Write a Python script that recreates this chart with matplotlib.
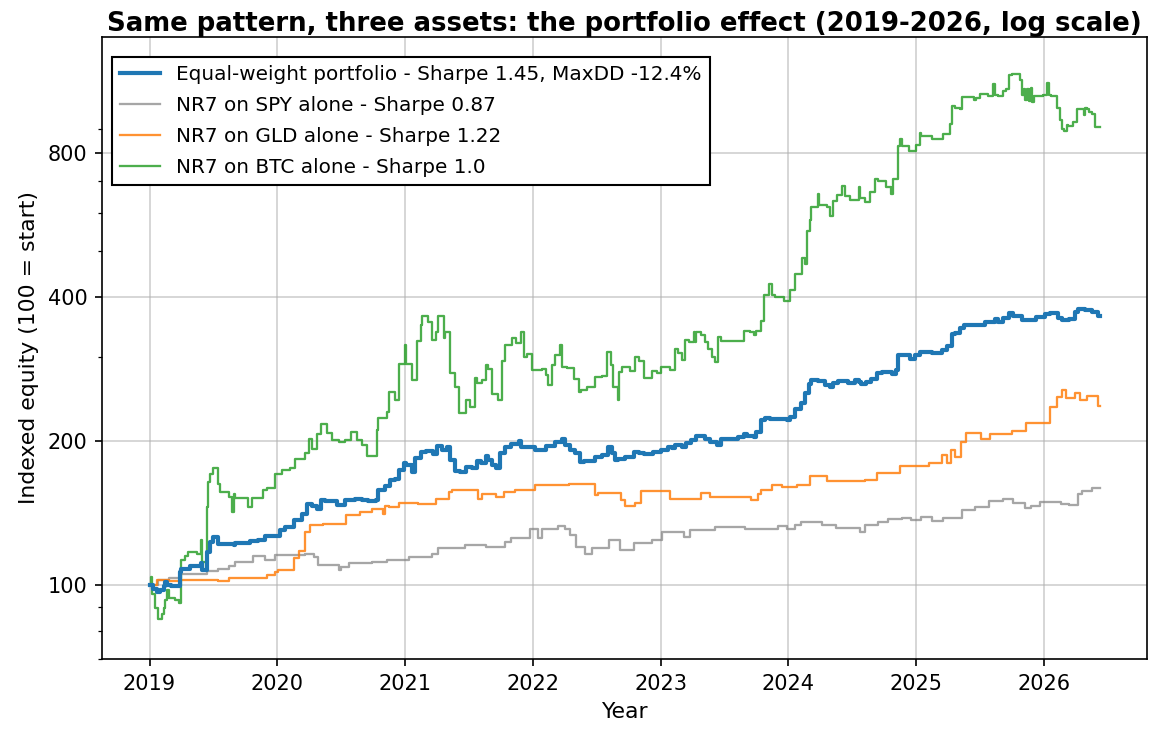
import matplotlib
matplotlib.use("Agg")
import matplotlib.pyplot as plt
import matplotlib.dates as mdates
from matplotlib.ticker import NullFormatter
import pandas as pd

# equity curves, indexed to 100 at start (time in decimal years)
portfolio_t = [2019.00, 2019.03, 2019.06, 2019.08, 2019.11, 2019.12, 2019.14, 2019.17, 2019.24, 2019.25,
               2019.32, 2019.40, 2019.41, 2019.45, 2019.475, 2019.50, 2019.54, 2019.66, 2019.67, 2019.75,
               2019.79, 2019.85, 2019.905, 2019.98, 2020.02, 2020.06, 2020.13, 2020.19, 2020.23, 2020.27,
               2020.31, 2020.34, 2020.37, 2020.47, 2020.53, 2020.61, 2020.66, 2020.71, 2020.77, 2020.79,
               2020.84, 2020.88, 2020.92, 2020.95, 2020.99, 2021.01, 2021.05, 2021.08, 2021.12, 2021.16,
               2021.22, 2021.25, 2021.29, 2021.33, 2021.35, 2021.39, 2021.43, 2021.48, 2021.52, 2021.56,
               2021.59, 2021.63, 2021.65, 2021.68, 2021.71, 2021.74, 2021.78, 2021.83, 2021.89, 2021.91,
               2022.02, 2022.10, 2022.17, 2022.23, 2022.25, 2022.29, 2022.33, 2022.37, 2022.40, 2022.49,
               2022.54, 2022.59, 2022.62, 2022.645, 2022.67, 2022.72, 2022.79, 2022.83, 2022.87, 2022.94,
               2023.00, 2023.06, 2023.09, 2023.11, 2023.17, 2023.20, 2023.24, 2023.28, 2023.35, 2023.39,
               2023.44, 2023.47, 2023.61, 2023.65, 2023.68, 2023.73, 2023.75, 2023.79, 2023.82, 2023.86,
               2023.99, 2024.01, 2024.05, 2024.10, 2024.13, 2024.16, 2024.18, 2024.23, 2024.29, 2024.33,
               2024.35, 2024.39, 2024.47, 2024.52, 2024.55, 2024.57, 2024.61, 2024.65, 2024.69, 2024.73,
               2024.81, 2024.84, 2024.86, 2024.95, 2024.99, 2025.03, 2025.12, 2025.20, 2025.24, 2025.28,
               2025.30, 2025.34, 2025.37, 2025.47, 2025.54, 2025.62, 2025.64, 2025.68, 2025.73, 2025.76,
               2025.83, 2025.88, 2025.94, 2026.01, 2026.05, 2026.11, 2026.14, 2026.20, 2026.24, 2026.27,
               2026.32, 2026.38, 2026.42, 2026.435]
portfolio_v = [100, 98.3, 96.7, 97.5, 99.5, 101.5, 100.0, 99.4, 106.5, 108.2,
               109.4, 111.2, 107.7, 117.2, 123.0, 126.0, 122.0, 121.0, 122.6, 122.2,
               123.4, 124.4, 126.4, 126.8, 130.1, 132.2, 136.5, 140.9, 148.0, 146.0,
               144.4, 150.4, 149.5, 146.9, 150.4, 151.6, 150.5, 149.5, 150.4, 157.8,
               160.8, 165.4, 166.8, 173.8, 179.7, 178.0, 172.6, 183.9, 189.9, 190.5,
               188.0, 195.2, 192.0, 194.5, 182.4, 173.3, 172.6, 176.6, 175.5, 182.0,
               179.5, 185.9, 182.5, 178.0, 175.4, 188.4, 194.6, 197.3, 200.1, 194.6,
               191.4, 195.5, 199.2, 202.3, 196.5, 191.4, 188.4, 180.8, 182.0, 185.5,
               186.8, 194.6, 188.4, 182.4, 183.6, 185.0, 189.9, 189.0, 187.6, 189.9,
               191.4, 194.6, 193.2, 196.1, 194.6, 198.4, 200.8, 204.7, 202.3, 199.2,
               196.1, 202.3, 203.5, 207.3, 204.7, 203.5, 209.0, 220.9, 223.6, 222.5,
               221.0, 224.1, 233.8, 240.2, 251.7, 263.8, 268.3, 266.5, 261.5, 259.5,
               264.0, 266.5, 264.5, 268.0, 265.5, 262.9, 266.0, 269.5, 276.9, 278.5,
               276.0, 281.0, 302.3, 297.4, 302.3, 307.1, 306.0, 310.0, 316.5, 334.2,
               336.0, 343.9, 349.4, 349.4, 355.0, 360.6, 355.5, 361.5, 371.4, 366.0,
               357.8, 358.5, 363.6, 369.5, 370.0, 362.0, 357.8, 359.5, 372.6, 377.0,
               376.0, 372.0, 364.8, 364.8]

spy_t = [2019.00, 2019.07, 2019.15, 2019.25, 2019.45, 2019.54, 2019.62, 2019.67, 2019.81, 2019.905,
         2019.98, 2020.22, 2020.29, 2020.32, 2020.48, 2020.50, 2020.56, 2020.74, 2020.86, 2020.95,
         2021.03, 2021.21, 2021.26, 2021.47, 2021.63, 2021.78, 2021.83, 2021.98, 2022.04, 2022.07,
         2022.20, 2022.25, 2022.29, 2022.34, 2022.41, 2022.46, 2022.60, 2022.68, 2022.79, 2022.93,
         2023.01, 2023.18, 2023.23, 2023.43, 2023.66, 2023.92, 2023.99, 2024.05, 2024.10, 2024.26,
         2024.37, 2024.56, 2024.60, 2024.70, 2024.78, 2024.89, 2024.96, 2025.04, 2025.12, 2025.21,
         2025.36, 2025.46, 2025.57, 2025.68, 2025.76, 2025.85, 2025.90, 2025.97, 2026.13, 2026.20,
         2026.27, 2026.30, 2026.38, 2026.435]
spy_v = [100, 102.3, 103.6, 105.6, 107.0, 108.2, 109.6, 111.7, 114.8, 112.6,
         115.4, 116.3, 114.4, 110.0, 107.3, 109.0, 111.2, 111.8, 112.6, 113.0,
         114.4, 116.3, 119.5, 121.0, 120.1, 123.0, 125.4, 130.9, 125.6, 131.2,
         132.7, 131.2, 127.0, 120.1, 116.3, 119.7, 124.4, 118.6, 122.6, 124.4,
         129.0, 126.0, 130.6, 132.2, 131.2, 132.7, 131.2, 133.3, 135.5, 133.3,
         131.8, 129.0, 133.3, 135.5, 137.5, 138.0, 137.0, 138.8, 136.1, 138.0,
         143.8, 145.9, 149.5, 151.6, 148.4, 144.9, 146.5, 149.2, 147.5, 146.8,
         155.3, 157.4, 159.7, 159.7]

gld_t = [2019.00, 2019.06, 2019.15, 2019.25, 2019.54, 2019.62, 2019.77, 2019.92, 2019.98, 2020.01,
         2020.13, 2020.17, 2020.22, 2020.26, 2020.36, 2020.54, 2020.65, 2020.74, 2020.83, 2020.84,
         2020.87, 2020.95, 2021.10, 2021.24, 2021.34, 2021.37, 2021.57, 2021.60, 2021.71, 2021.77,
         2021.86, 2022.02, 2022.28, 2022.49, 2022.51, 2022.69, 2022.72, 2022.80, 2022.85, 2023.07,
         2023.32, 2023.39, 2023.71, 2023.76, 2023.79, 2023.87, 2023.95, 2024.07, 2024.17, 2024.30,
         2024.60, 2024.69, 2024.87, 2025.10, 2025.20, 2025.24, 2025.27, 2025.30, 2025.35, 2025.39,
         2025.51, 2025.58, 2025.75, 2025.86, 2026.05, 2026.10, 2026.14, 2026.17, 2026.24, 2026.28,
         2026.34, 2026.42, 2026.435]
gld_v = [100, 102.6, 101.8, 102.6, 101.9, 103.6, 103.2, 104.8, 106.5, 107.7,
         113.6, 117.8, 129.0, 133.3, 134.4, 139.9, 142.2, 144.4, 141.0, 146.0,
         145.5, 148.4, 147.6, 151.1, 156.5, 158.2, 151.6, 155.3, 152.9, 156.5,
         158.2, 161.7, 162.5, 154.1, 155.7, 150.4, 146.3, 148.4, 157.4, 151.6,
         155.7, 152.9, 150.4, 155.0, 158.2, 161.7, 160.2, 161.7, 168.8, 165.1,
         166.0, 171.5, 177.1, 179.7, 186.7, 180.0, 191.5, 185.0, 199.4, 208.2,
         202.3, 207.3, 210.0, 218.2, 235.7, 247.4, 255.4, 245.5, 252.0, 244.0,
         248.3, 236.7, 236.7]

btc_t = [2019.00, 2019.01, 2019.02, 2019.04, 2019.07, 2019.10, 2019.11, 2019.12, 2019.14, 2019.15,
         2019.20, 2019.23, 2019.245, 2019.25, 2019.28, 2019.305, 2019.37, 2019.40, 2019.41, 2019.44,
         2019.45, 2019.46, 2019.475, 2019.50, 2019.54, 2019.55, 2019.62, 2019.65, 2019.66, 2019.67,
         2019.775, 2019.80, 2019.89, 2019.92, 2019.98, 2020.035, 2020.10, 2020.14, 2020.22, 2020.25,
         2020.27, 2020.31, 2020.34, 2020.39, 2020.43, 2020.48, 2020.53, 2020.58, 2020.62, 2020.66,
         2020.70, 2020.71, 2020.78, 2020.79, 2020.86, 2020.875, 2020.92, 2020.95, 2021.00, 2021.01,
         2021.05, 2021.09, 2021.12, 2021.13, 2021.18, 2021.21, 2021.24, 2021.26, 2021.30, 2021.31,
         2021.35, 2021.39, 2021.42, 2021.48, 2021.51, 2021.55, 2021.56, 2021.60, 2021.63, 2021.65,
         2021.68, 2021.73, 2021.76, 2021.78, 2021.84, 2021.87, 2021.91, 2021.93, 2021.95, 2021.99,
         2022.07, 2022.10, 2022.12, 2022.15, 2022.17, 2022.21, 2022.23, 2022.27, 2022.32, 2022.36,
         2022.38, 2022.42, 2022.49, 2022.54, 2022.58, 2022.61, 2022.63, 2022.665, 2022.675, 2022.70,
         2022.76, 2022.80, 2022.83, 2022.87, 2022.89, 2022.93, 2022.97, 2023.00, 2023.07, 2023.11,
         2023.14, 2023.17, 2023.19, 2023.22, 2023.26, 2023.27, 2023.28, 2023.32, 2023.35, 2023.37,
         2023.40, 2023.43, 2023.45, 2023.47, 2023.65, 2023.70, 2023.73, 2023.745, 2023.79, 2023.81,
         2023.85, 2023.87, 2023.90, 2023.97, 2024.01, 2024.05, 2024.11, 2024.13, 2024.15, 2024.17,
         2024.18, 2024.23, 2024.24, 2024.30, 2024.33, 2024.35, 2024.38, 2024.42, 2024.44, 2024.48,
         2024.55, 2024.56, 2024.60, 2024.64, 2024.68, 2024.70, 2024.76, 2024.80, 2024.82, 2024.855,
         2024.87, 2024.89, 2024.94, 2025.00, 2025.03, 2025.04, 2025.12, 2025.21, 2025.265, 2025.28,
         2025.30, 2025.34, 2025.36, 2025.45, 2025.47, 2025.50, 2025.565, 2025.60, 2025.62, 2025.64,
         2025.68, 2025.70, 2025.73, 2025.75, 2025.81, 2025.83, 2025.845, 2025.855, 2025.87, 2025.88,
         2025.895, 2025.91, 2025.92, 2025.995, 2026.02, 2026.04, 2026.055, 2026.10, 2026.125, 2026.14,
         2026.16, 2026.18, 2026.19, 2026.23, 2026.26, 2026.31, 2026.32, 2026.34, 2026.35, 2026.38,
         2026.40, 2026.435]
btc_v = [100, 103.9, 95.9, 89.3, 85.0, 87.0, 89.7, 92.9, 97.5, 93.7,
         93.0, 91.7, 109.1, 112.6, 114.8, 117.2, 116.0, 124.0, 111.7, 108.0,
         145.6, 164.3, 171.0, 175.7, 163.0, 156.5, 152.9, 142.1, 155.0, 152.3,
         145.6, 152.3, 157.8, 159.7, 170.4, 174.3, 175.7, 183.0, 188.8, 202.4,
         192.9, 207.3, 216.9, 207.5, 200.8, 199.0, 200.8, 209.0, 200.8, 195.8,
         185.9, 186.5, 210.8, 223.0, 230.2, 253.3, 243.5, 290.0, 317.8, 290.0,
         268.4, 323.1, 349.4, 365.2, 355.0, 325.6, 338.6, 365.2, 328.3, 338.6,
         276.9, 259.9, 229.2, 243.5, 235.2, 270.6, 265.0, 268.0, 289.1, 283.0,
         251.3, 243.5, 294.7, 317.8, 328.3, 320.0, 338.6, 299.3, 304.0, 281.0,
         283.0, 274.4, 262.2, 287.9, 302.3, 317.8, 285.6, 284.0, 269.5, 253.3,
         256.0, 259.9, 272.3, 273.0, 307.1, 287.9, 259.9, 244.0, 278.8, 285.6,
         280.0, 299.3, 294.0, 271.5, 270.6, 280.4, 277.0, 285.6, 282.0, 312.2,
         306.0, 295.8, 325.6, 322.0, 338.6, 322.0, 338.6, 334.0, 322.0, 310.9,
         300.0, 292.4, 329.9, 323.9, 339.3, 338.0, 333.0, 340.0, 356.6, 403.7,
         426.8, 403.7, 399.4, 393.4, 414.8, 447.2, 482.6, 469.0, 550.7, 579.6,
         617.6, 658.4, 623.5, 618.0, 591.5, 635.6, 654.4, 683.0, 650.0, 637.7,
         678.4, 645.0, 632.7, 664.2, 706.9, 700.0, 679.2, 658.4, 706.9, 828.3,
         855.3, 828.3, 808.6, 831.7, 881.7, 868.5, 855.3, 879.0, 918.6, 1004.7,
         995.0, 990.0, 1046.3, 1035.0, 1042.0, 1062.6, 1055.0, 1114.7, 1060.0, 1051.3,
         1080.0, 1090.0, 1166.1, 1171.6, 1140.0, 1058.2, 1090.0, 1035.4, 1090.0, 1030.0,
         1095.0, 1025.7, 1051.3, 1058.2, 1121.6, 1058.2, 1051.3, 996.4, 939.5, 900.8,
         891.4, 915.0, 910.5, 928.9, 990.0, 960.0, 995.0, 990.0, 974.4, 965.2,
         907.5, 907.5]

labels = ["Equal-weight portfolio - Sharpe 1.45, MaxDD -12.4%",
          "NR7 on SPY alone - Sharpe 0.87",
          "NR7 on GLD alone - Sharpe 1.22",
          "NR7 on BTC alone - Sharpe 1.0"]


def to_dates(years):
    out = []
    for y in years:
        yr = int(y)
        start = pd.Timestamp(year=yr, month=1, day=1)
        end = pd.Timestamp(year=yr + 1, month=1, day=1)
        out.append(start + (end - start) * (y - yr))
    return out


fig = plt.figure(figsize=(1163 / 150, 741 / 150), dpi=150)
ax = fig.add_axes([102 / 1163, 1 - 659 / 741, 1045 / 1163, 622 / 741])

ax.plot(to_dates(portfolio_t), portfolio_v, color="tab:blue", lw=2, drawstyle="steps-post",
        label=labels[0], zorder=4)
ax.plot(to_dates(spy_t), spy_v, color="gray", alpha=0.7, lw=1.1, drawstyle="steps-post", label=labels[1])
ax.plot(to_dates(gld_t), gld_v, color="tab:orange", alpha=0.85, lw=1.1, drawstyle="steps-post", label=labels[2])
ax.plot(to_dates(btc_t), btc_v, color="tab:green", alpha=0.85, lw=1.1, drawstyle="steps-post", label=labels[3])

ax.set_yscale("log")
ax.set_ylim(70, 1400)
ax.set_yticks([100, 200, 400, 800])
ax.set_yticklabels(["100", "200", "400", "800"])
ax.yaxis.set_minor_formatter(NullFormatter())

ax.xaxis.set_major_locator(mdates.YearLocator())
ax.xaxis.set_major_formatter(mdates.DateFormatter("%Y"))

ax.grid(True, alpha=0.6)
ax.set_title("Same pattern, three assets: the portfolio effect (2019-2026, log scale)",
             fontsize=12.5, fontweight="bold", pad=3)
ax.set_xlabel("Year", fontsize=10.5)
ax.set_ylabel("Indexed equity (100 = start)", fontsize=10.5)
leg = ax.legend(loc="upper left", bbox_to_anchor=(0.0096, 0.968), borderaxespad=0,
                fontsize=9.6, labelspacing=0.6, fancybox=False, framealpha=1, edgecolor="black")

fig.savefig("out.png", dpi=150)
